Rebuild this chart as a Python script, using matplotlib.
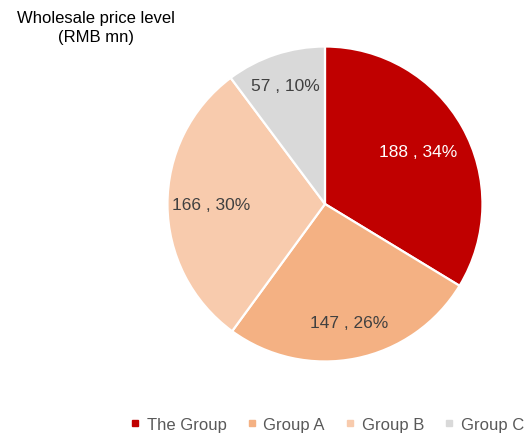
import numpy as np
import matplotlib.pyplot as plt
from matplotlib.lines import Line2D

plt.rcParams['font.family'] = ['Liberation Sans', 'DejaVu Sans']

groups = ['The Group', 'Group A', 'Group B', 'Group C']
values = [188, 147, 166, 57]
colors = ['#C00000', '#F4B183', '#F8CBAD', '#D9D9D9']
label_colors = ['white', '#404040', '#404040', '#404040']
label_dist = [0.68, 0.77, 0.72, 0.79]

fig = plt.figure(figsize=(5.25, 4.35), dpi=100)
ax = fig.add_axes([0.319, 0.1667, 0.6, 0.7241])

wedges, _ = ax.pie(values, colors=colors, startangle=90, counterclock=False,
                   radius=1, wedgeprops=dict(edgecolor='white', linewidth=1.6))

total = sum(values)
for w, v, c, d in zip(wedges, values, label_colors, label_dist):
    ang = np.deg2rad((w.theta1 + w.theta2) / 2)
    pct = round(v / total * 100)
    ax.text(d * np.cos(ang), d * np.sin(ang), f'{v} , {pct}%', ha='center', va='center',
            color=c, fontsize=12.5)

ax.set_xlim(-1, 1)
ax.set_ylim(-1, 1)
ax.set_aspect('equal')
ax.axis('off')

fig.text(0.183, 0.975, 'Wholesale price level\n(RMB mn)', ha='center', va='top',
         fontsize=12, color='black', linespacing=1.35)

handles = [Line2D([], [], marker='s', linestyle='', color=c, markersize=4.5) for c in colors]
fig.legend(handles, groups, loc='center', bbox_to_anchor=(0.623, 0.022), ncol=4,
           frameon=False, fontsize=12, labelcolor='#595959', handlelength=0.6,
           handletextpad=0.4, columnspacing=1.2)

fig.savefig('out.png', dpi=100)
